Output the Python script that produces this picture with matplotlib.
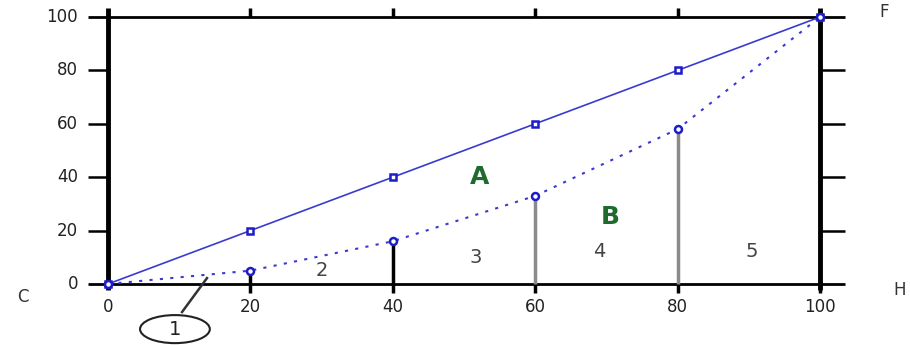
import matplotlib.pyplot as plt
from matplotlib.patches import Ellipse

# 累计百分比数据
x_pct = [0, 20, 40, 60, 80, 100]
line_a = [0, 20, 40, 60, 80, 100]      # 绝对平均线
curve_b = [0, 5, 16, 33, 58, 100]      # 实际分布曲线
y_ticks = [0, 20, 40, 60, 80, 100]
x_ticks = [0, 20, 40, 60, 80, 100]
stem_colors = ['black', 'black', '#8a8a8a', '#8a8a8a']   # 20/40/60/80 处竖线
area_nums = ['2', '3', '4', '5']
area_pos = [(30, 5), (51.7, 10), (69, 12), (90.4, 12)]

plt.rcParams['font.family'] = ['DejaVu Sans']
fig = plt.figure(figsize=(9.1, 3.45), dpi=100)
ax = fig.add_axes([0, 0, 1, 1])
ax.set_xlim(-15.17, 112.64)
ax.set_ylim(-22.85, 106.37)
ax.axis('off')

# 外框
ax.hlines([0, 100], -2.8, 103.5, color='black', lw=2)
ax.vlines([0, 100], -2.2, 103.2, color='black', lw=3.5)
# 刻度
ax.hlines(y_ticks[1:-1], -2.8, 0, color='black', lw=1.8)
ax.hlines(y_ticks[1:-1], 100, 103.5, color='black', lw=1.8)
ax.vlines(x_ticks[1:-1], 100, 103.2, color='black', lw=2.5)
ax.vlines(x_ticks[1:], -3.4, 0, color='black', lw=2.5)

for v in y_ticks:
    ax.text(-4.2, v, str(v), ha='right', va='center', fontsize=12, color='#222222')
for v in x_ticks:
    ax.text(v, -8.6, str(v), ha='center', va='center', fontsize=12, color='#222222')

# 竖线
for xv, yv, c in zip(x_pct[1:-1], curve_b[1:-1], stem_colors):
    ax.vlines(xv, 0, yv, color=c, lw=2.5, zorder=2)

# A 线与 B 曲线
ax.plot(x_pct, line_a, color='#3a3ad0', lw=1.2, marker='s', ms=5,
        mfc='white', mec='#1c1cc8', mew=1.8, zorder=3)
ax.plot(x_pct, curve_b, color='#3a3ad0', lw=1.5, ls=(0, (1.5, 3.5)), marker='o', ms=5,
        mfc='white', mec='#1c1cc8', mew=1.8, zorder=3)

ax.text(52.2, 40, 'A', ha='center', va='center', fontsize=18, fontweight='bold', color='#1f6b2e')
ax.text(70.5, 25, 'B', ha='center', va='center', fontsize=18, fontweight='bold', color='#1f6b2e')
for t, (px, py) in zip(area_nums, area_pos):
    ax.text(px, py, t, ha='center', va='center', fontsize=14, color='#444444')

# 区域 1 标注
ax.add_patch(Ellipse((9.4, -16.9), 9.8, 10.5, fill=False, ec='#222222', lw=1.5))
ax.text(9.4, -16.9, '1', ha='center', va='center', fontsize=14, color='#222222')
ax.plot([10.4, 13.9], [-10.5, 2.2], color='#333333', lw=1.8)

ax.text(-11.9, -4.9, 'C', ha='center', va='center', fontsize=12, color='#333333')
ax.text(109, 101.9, 'F', ha='center', va='center', fontsize=12, color='#333333')
ax.text(111.2, -2.2, 'H', ha='center', va='center', fontsize=12, color='#333333')

fig.savefig('out.png', dpi=100)
